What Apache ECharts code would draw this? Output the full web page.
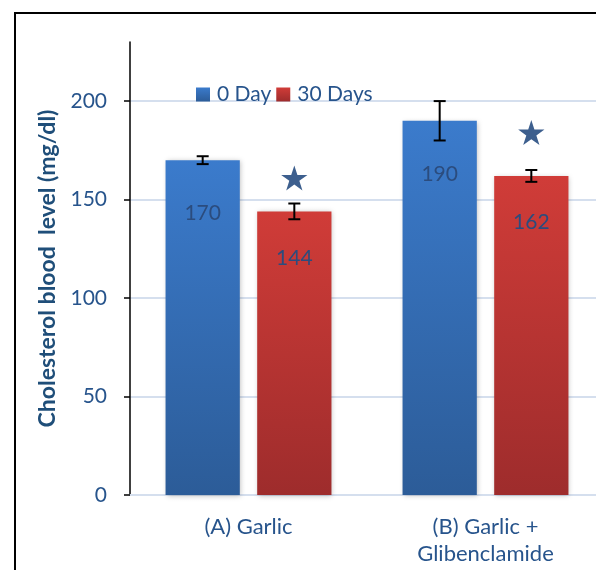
<!DOCTYPE html>
<html>
<head>
<meta charset="utf-8">
<script src="https://cdn.jsdelivr.net/npm/echarts@6/dist/echarts.min.js"></script>
<style>html,body{margin:0;padding:0;background:#fff;overflow:hidden;}#c{width:596px;height:570px;}</style>
</head>
<body>
<div id="c"></div>
<script>
const categories = ['(A) Garlic', '(B) Garlic +\nGlibenclamide'];
const seriesNames = ['0 Day', '30 Days'];
const day0 = [170, 190];
const day30 = [144, 162];
const err0 = [2, 10];
const err30 = [4, 3];
const starValues = [161, 184];   // stars drawn above the 30 Days bars
const yTicks = [0, 50, 100, 150, 200];
const yMax = 230;

const BAR_CAT_GAP = 0.30, BAR_GAP = 0.234;
const FONT = 'Lato, "Open Sans", sans-serif';
const TXT = '#27548C';

function barOffset(api, which) {
  const w = api.size([1, 0])[0];
  const b = w * (1 - BAR_CAT_GAP) / (2 + BAR_GAP);
  const off = (b + b * BAR_GAP) / 2;
  return which === 0 ? -off : off;
}

function errorSeries(values, errs, which) {
  return {
    type: 'custom', silent: true, z: 5,
    data: values.map((v, i) => [i, v - errs[i], v + errs[i]]),
    renderItem: function (params, api) {
      const i = api.value(0);
      const lo = api.coord([i, api.value(1)]);
      const hi = api.coord([i, api.value(2)]);
      const x = lo[0] + barOffset(api, which);
      const cap = 6;
      const st = { stroke: '#000', lineWidth: 2 };
      return { type: 'group', children: [
        { type: 'line', shape: { x1: x, y1: lo[1], x2: x, y2: hi[1] }, style: st },
        { type: 'line', shape: { x1: x - cap, y1: lo[1], x2: x + cap, y2: lo[1] }, style: st },
        { type: 'line', shape: { x1: x - cap, y1: hi[1], x2: x + cap, y2: hi[1] }, style: st }
      ]};
    }
  };
}

const starPath = 'M50,0 L61.8,36.2 L100,36.2 L69.1,58.6 L80.9,95.1 L50,72.6 L19.1,95.1 L30.9,58.6 L0,36.2 L38.2,36.2 Z';

const chart = echarts.init(document.getElementById('c'), null, { renderer: 'canvas' });
chart.setOption({
  animation: false,
  backgroundColor: '#fff',
  graphic: [{
    type: 'polyline', z: 100,
    shape: { points: [[800, 13], [15, 13], [15, 800]] },
    style: { fill: 'none', stroke: '#000', lineWidth: 2 }
  }],
  legend: {
    data: seriesNames,
    left: 191, top: 79,
    itemWidth: 14, itemHeight: 14, itemGap: 5,
    icon: 'rect',
    textStyle: { color: TXT, fontSize: 21, fontFamily: FONT, padding: [0, 0, 0, 2] }
  },
  grid: { left: 130, width: 474, top: 42, bottom: 75, containLabel: false, outerBoundsMode: 'none' },
  xAxis: {
    type: 'category', data: categories,
    axisLine: { lineStyle: { color: '#D5DFEE', width: 2 } },
    axisTick: { show: false },
    axisLabel: { color: TXT, fontSize: 22, fontFamily: FONT, margin: 18, lineHeight: 27 }
  },
  yAxis: {
    type: 'value', min: 0, max: yMax, interval: 50,
    name: 'Cholesterol blood  level (mg/dl)',
    nameLocation: 'middle', nameGap: 66, nameRotate: 90,
    nameTextStyle: { color: '#1F4E79', fontSize: 23, fontWeight: 'bold', fontFamily: FONT },
    axisLine: { show: true, lineStyle: { color: '#000', width: 1.5 } },
    axisTick: { show: true, length: 6, customValues: yTicks, lineStyle: { color: '#000', width: 1.5 } },
    axisLabel: { customValues: yTicks, color: TXT, fontSize: 21, fontFamily: FONT, margin: 23 },
    splitLine: { show: true, lineStyle: { color: '#D5DFEE', width: 2 } }
  },
  series: [
    {
      name: seriesNames[0], type: 'bar', data: day0,
      barGap: (BAR_GAP * 100) + '%', barCategoryGap: (BAR_CAT_GAP * 100) + '%',
      itemStyle: {
        color: new echarts.graphic.LinearGradient(0, 0, 0, 1, [
          { offset: 0, color: '#3B7BCC' }, { offset: 1, color: '#2C5C98' }]),
        shadowBlur: 5, shadowColor: 'rgba(0,0,0,0.25)', shadowOffsetX: 1, shadowOffsetY: 1
      },
      label: { show: true, position: 'insideTop', distance: 43, color: '#2B4C7E', fontSize: 21, fontFamily: FONT }
    },
    {
      name: seriesNames[1], type: 'bar', data: day30,
      itemStyle: {
        color: new echarts.graphic.LinearGradient(0, 0, 0, 1, [
          { offset: 0, color: '#D03C38' }, { offset: 1, color: '#9E2C2C' }]),
        shadowBlur: 5, shadowColor: 'rgba(0,0,0,0.25)', shadowOffsetX: 1, shadowOffsetY: 1
      },
      label: { show: true, position: 'insideTop', distance: 36, color: '#2B4C7E', fontSize: 21, fontFamily: FONT }
    },
    errorSeries(day0, err0, 0),
    errorSeries(day30, err30, 1),
    {
      type: 'custom', silent: true, z: 6,
      data: starValues.map((v, i) => [i, v]),
      renderItem: function (params, api) {
        const p = api.coord([api.value(0), api.value(1)]);
        const x = p[0] + barOffset(api, 1);
        const w = 33, h = 25;
        return { type: 'path', shape: { pathData: starPath, x: x - w / 2, y: p[1] - h / 2, width: w, height: h },
          style: { fill: '#3D5F8E' } };
      }
    }
  ]
});
</script>
</body>
</html>
